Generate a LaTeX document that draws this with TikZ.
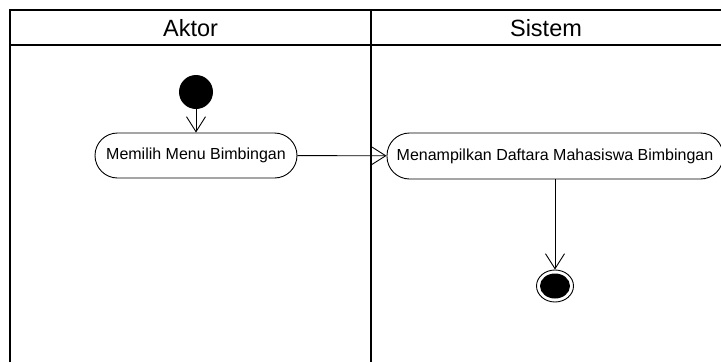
\documentclass[tikz,border=0pt]{standalone}
\usepackage{fontspec}
\setmainfont{Liberation Sans}
\usetikzlibrary{arrows.meta,shapes.geometric}
\begin{document}
\begin{tikzpicture}[x=1pt,y=-1pt,
  lane/.style={line width=1.3pt},
  action/.style={draw, line width=0.9pt, rounded corners=22.5pt, inner sep=0pt,
    font=\fontsize{16}{18}\selectfont},
  flow/.style={line width=0.9pt, -{Straight Barb[length=15pt,width=19pt,line width=0.9pt]}},
  startnode/.style={circle, fill=black, minimum size=34pt, inner sep=0pt},
  endouter/.style={ellipse, draw, line width=0.9pt, minimum width=37pt, minimum height=32pt, inner sep=0pt},
  endinner/.style={ellipse, fill=black, minimum width=30pt, minimum height=25pt, inner sep=0pt},
  header/.style={font=\fontsize{23.5}{27}\selectfont}]
\useasboundingbox (0,0) rectangle (721,362);
% swimlane frame
\draw[lane] (10,362) -- (10,10) -- (721,10);
\draw[lane] (10,45) -- (721,45);
\draw[lane] (371,10) -- (371,362);
\node[header] (aktor) at (190.5,28) {Aktor};
\node[header] (sistem) at (546,28) {Sistem};
% activity flow
\node[startnode] (start) at (196,92) {};
\node[action, minimum width=202pt, minimum height=45pt] (pilih) at (196,155.5) {Memilih Menu Bimbingan};
\node[action, minimum width=336pt, minimum height=46pt] (tampil) at (555,156) {Menampilkan Daftara Mahasiswa Bimbingan};
\node[endouter] (akhir) at (555,286) {};
\node[endinner] (akhirin) at (akhir.center) {};
\draw[flow] (start) -- (pilih);
\draw[flow] (pilih) -- (tampil);
\draw[flow] (tampil) -- (akhir);
\end{tikzpicture}
\end{document}
